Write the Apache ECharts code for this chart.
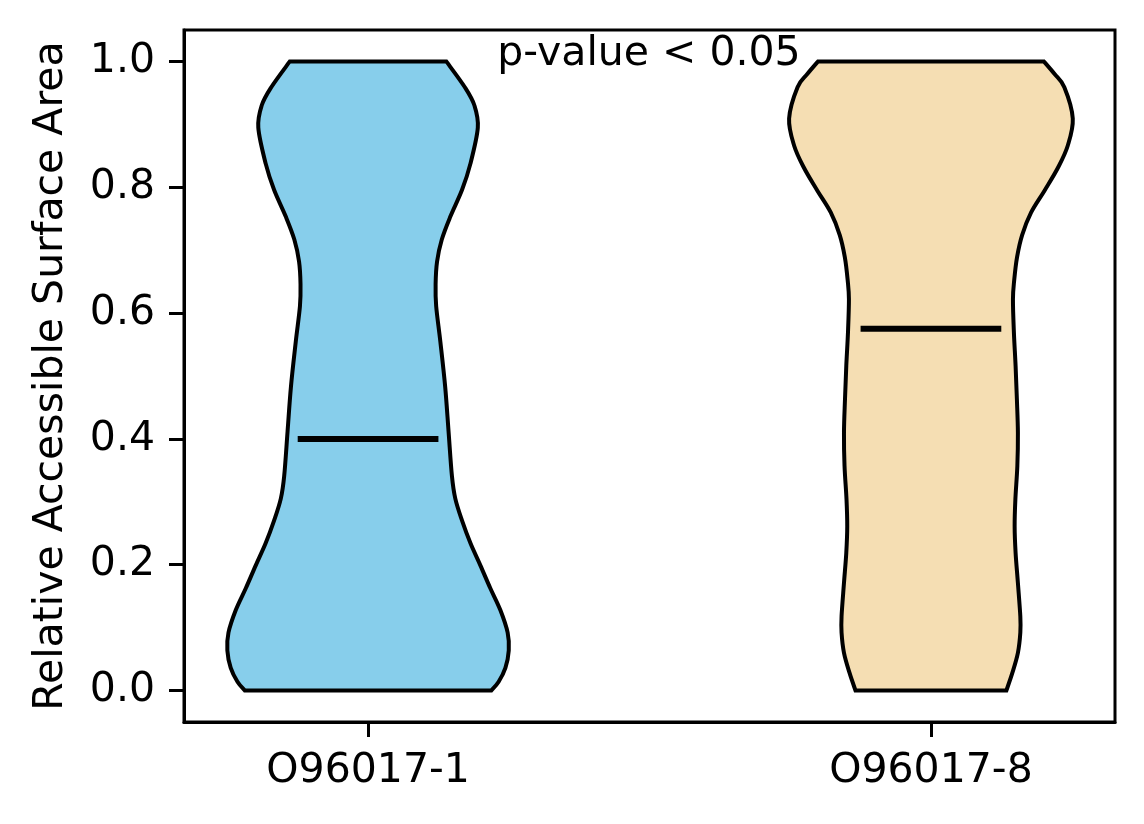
<!DOCTYPE html>
<html>
<head>
<meta charset="utf-8">
<script src="https://cdn.jsdelivr.net/npm/echarts@6/dist/echarts.min.js"></script>
<style>
  html, body { margin: 0; padding: 0; background: #fff; }
  #chart { width: 1144px; height: 824px; }
</style>
</head>
<body>
<div id="chart"></div>
<script>
var categories = ['O96017-1', 'O96017-8'];
var positions = [1, 2];
var fillColors = ['#87CEEB', '#F5DEB3'];
var medians = [0.40, 0.575];
var yTicks = [0.0, 0.2, 0.4, 0.6, 0.8, 1.0];

// violin outline: value levels and half-widths (x units)
var levels1 = [0, 0.014, 0.036, 0.064, 0.092, 0.128, 0.163, 0.199, 0.234, 0.270, 0.305, 0.341, 0.412,
    0.483, 0.554, 0.611, 0.646, 0.682, 0.717, 0.753, 0.796, 0.838, 0.895, 0.930, 0.959, 1.0];
var widths1 = [0.219, 0.232, 0.244, 0.250, 0.248, 0.235, 0.217, 0.1995, 0.182, 0.167, 0.155, 0.149, 0.143,
    0.137, 0.1285, 0.121, 0.120, 0.1226, 0.131, 0.146, 0.167, 0.182, 0.195, 0.189, 0.172, 0.139];

var levels2 = [0, 0.028, 0.060, 0.092, 0.118, 0.171, 0.219, 0.261, 0.304, 0.357, 0.410, 0.463, 0.516,
    0.569, 0.622, 0.653, 0.689, 0.724, 0.760, 0.795, 0.831, 0.866, 0.909, 0.959, 0.980, 1.0];
var widths2 = [0.134, 0.1446, 0.1545, 0.1588, 0.1588, 0.1545, 0.1504, 0.1487, 0.150, 0.1535, 0.1545, 0.1527, 0.1504,
    0.1474, 0.1457, 0.148, 0.153, 0.162, 0.178, 0.202, 0.2256, 0.243, 0.252, 0.237, 0.2197, 0.2007];

var allLevels = [levels1, levels2];
var allWidths = [widths1, widths2];
var medianHalf = 0.125;

var FONT = 'DejaVu Sans';

// smooth curve through points (catmull-rom as cubic bezier)
function curveThrough(pts) {
    var d = '';
    for (var i = 0; i < pts.length - 1; i++) {
        var p0 = pts[i - 1] || pts[i];
        var p1 = pts[i];
        var p2 = pts[i + 1];
        var p3 = pts[i + 2] || pts[i + 1];
        var c1x = p1[0] + (p2[0] - p0[0]) / 6, c1y = p1[1] + (p2[1] - p0[1]) / 6;
        var c2x = p2[0] - (p3[0] - p1[0]) / 6, c2y = p2[1] - (p3[1] - p1[1]) / 6;
        d += ' C ' + c1x + ' ' + c1y + ' ' + c2x + ' ' + c2y + ' ' + p2[0] + ' ' + p2[1];
    }
    return d;
}

function renderViolin(params, api) {
    var k = params.dataIndex;
    var pos = positions[k];
    var lv = allLevels[k];
    var hw = allWidths[k];
    var right = [], left = [];
    for (var i = 0; i < lv.length; i++) {
        right.push(api.coord([pos + hw[i], lv[i]]));
    }
    for (var j = lv.length - 1; j >= 0; j--) {
        left.push(api.coord([pos - hw[j], lv[j]]));
    }
    var d = 'M ' + left[left.length - 1][0] + ' ' + left[left.length - 1][1] +
        ' L ' + right[0][0] + ' ' + right[0][1] +
        curveThrough(right) +
        ' L ' + left[0][0] + ' ' + left[0][1] +
        curveThrough(left) + ' Z';

    var m1 = api.coord([pos - medianHalf, medians[k]]);
    var m2 = api.coord([pos + medianHalf, medians[k]]);

    return {
        type: 'group',
        children: [{
            type: 'path',
            shape: { pathData: d },
            style: { fill: fillColors[k], stroke: '#000', lineWidth: 4 }
        }, {
            type: 'line',
            shape: { x1: m1[0], y1: m1[1], x2: m2[0], y2: m2[1] },
            style: { stroke: '#000', lineWidth: 6 }
        }]
    };
}

var chartDom = document.getElementById('chart');
var myChart = echarts.init(chartDom);
var option;

option = {
    backgroundColor: '#fff',
    animation: false,
    grid: {
        left: 184, top: 30, right: 29, bottom: 102,
        show: true, borderColor: '#000', borderWidth: 3
    },
    xAxis: {
        type: 'value',
        min: 0.673,
        max: 2.327,
        splitLine: { show: false },
        axisLine: { show: true, onZero: false, lineStyle: { color: '#000', width: 3 } },
        axisTick: { show: true, customValues: positions, length: 15, lineStyle: { color: '#000', width: 3 } },
        axisLabel: {
            customValues: positions,
            margin: 29,
            color: '#000',
            fontFamily: FONT,
            fontSize: 41,
            formatter: function (v) {
                var idx = positions.indexOf(v);
                return idx >= 0 ? categories[idx] : '';
            }
        }
    },
    yAxis: {
        type: 'value',
        min: -0.05,
        max: 1.05,
        name: 'Relative Accessible Surface Area',
        nameLocation: 'middle',
        nameRotate: 90,
        nameGap: 112,
        nameTextStyle: { color: '#000', fontFamily: FONT, fontSize: 41 },
        splitLine: { show: false },
        axisLine: { show: true, onZero: false, lineStyle: { color: '#000', width: 3 } },
        axisTick: { show: true, customValues: yTicks, length: 15, lineStyle: { color: '#000', width: 3 } },
        axisLabel: {
            customValues: yTicks,
            margin: 29,
            color: '#000',
            fontFamily: FONT,
            fontSize: 41,
            formatter: function (v) { return v.toFixed(1); }
        }
    },
    graphic: [{
        type: 'text',
        x: 649,
        y: 34,
        style: {
            text: 'p-value < 0.05',
            fill: '#000',
            font: '41px "DejaVu Sans"',
            align: 'center',
            verticalAlign: 'top'
        },
        z: 100
    }],
    series: [{
        type: 'custom',
        renderItem: renderViolin,
        data: [[1], [2]],
        encode: { x: 0 },
        clip: false
    }]
};

myChart.setOption(option);
</script>
</body>
</html>
